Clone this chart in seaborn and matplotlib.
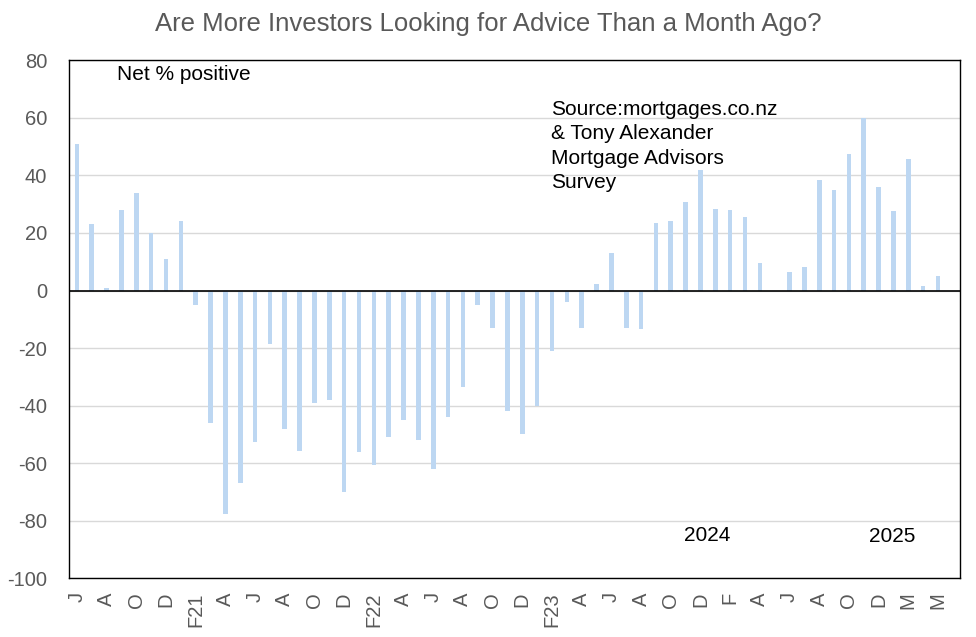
import numpy as np
import pandas as pd
import matplotlib
matplotlib.use("Agg")
import matplotlib.pyplot as plt
import seaborn as sns

# ── Dados ──────────────────────────────────────────────────────────────────────
meses = (
    ["J", "J", "A", "S", "O", "N", "D"]                                  # 2020
    + ["J", "F21", "M", "A", "M", "J", "J", "A", "S", "O", "N", "D"]      # 2021
    + ["J", "F22", "M", "A", "M", "J", "J", "A", "S", "O", "N", "D"]      # 2022
    + ["J", "F23", "M", "A", "M", "J", "J", "A", "S", "O", "N", "D"]      # 2023
    + ["J", "F", "M", "A", "M", "J", "J", "A", "S", "O", "N", "D"]        # 2024
    + ["F", "M", "A", "M", "J"]                                          # 2025
)
net_positivo = [
    51, 23, 1, 28, 34, 20, 11,
    24, -5, -46, -77.5, -67, -52.6, -18.6, -48, -55.8, -39, -38, -70,
    -56, -60.5, -51, -45, -52, -62, -44, -33.5, -5, -13, -42, -50,
    -40, -21, -4, -13, 2.4, 13, -13, -13.5, 23.4, 24, 30.6, 42,
    28.5, 28, 25.7, 9.7, 0, 6.3, 8.3, 38.3, 35, 47.3, 60, 36,
    27.5, 45.6, 1.7, 5.2, np.nan,
]
yticks = [80, 60, 40, 20, 0, -20, -40, -60, -80, -100]

df = pd.DataFrame({"pos": [f"{i:02d}" for i in range(len(meses))],
                   "mes": meses, "valor": net_positivo})

# ── Visual ─────────────────────────────────────────────────────────────────────
sns.set_theme(style="white")
plt.rcParams["font.family"] = ["Liberation Sans", "DejaVu Sans"]
plt.rcParams["axes.unicode_minus"] = False

CINZA = "#595959"
AZUL = "#BDD7F2"

fig = plt.figure(figsize=(9.76, 6.37), dpi=100)
ax = fig.add_axes([0.0712, 0.0921, 0.9127, 0.8132])

sns.barplot(data=df, x="pos", y="valor", color=AZUL, saturation=1,
            width=0.31, linewidth=0, ax=ax, zorder=3)

ax.set_ylim(-100, 80)
ax.set_yticks(yticks)
ax.yaxis.grid(True, color="#D9D9D9", linewidth=1.0, zorder=0)
ax.set_axisbelow(True)
ax.axhline(0, color="black", linewidth=1.2, zorder=4)
for s in ax.spines.values():
    s.set_color("black")
    s.set_linewidth(1.0)

ax.set_xticks(range(len(meses)))
ax.set_xticklabels([m if i % 2 == 0 else "" for i, m in enumerate(meses)],
                   rotation=90, fontsize=14.5, color=CINZA)
ax.tick_params(axis="y", labelsize=14.5, labelcolor=CINZA, length=0, pad=16)
ax.tick_params(axis="x", length=0, pad=10)
ax.set_xlabel("")
ax.set_ylabel("")

fig.suptitle("Are More Investors Looking for Advice Than a Month Ago?",
             x=0.5, y=0.962, va="center", fontsize=18.5, color=CINZA)

ax.text(2.7, 75, "Net % positive", fontsize=15, color="black", va="center")
ax.text(31.95, 66.3, "Source:mortgages.co.nz\n& Tony Alexander\nMortgage Advisors\nSurvey",
        fontsize=15, color="black", va="top", linespacing=1.36)
ax.text(42.45, -85, "2024", fontsize=15, color="black", ha="center", va="center")
ax.text(54.9, -85.5, "2025", fontsize=15, color="black", ha="center", va="center")

fig.savefig("out.png", dpi=100)
